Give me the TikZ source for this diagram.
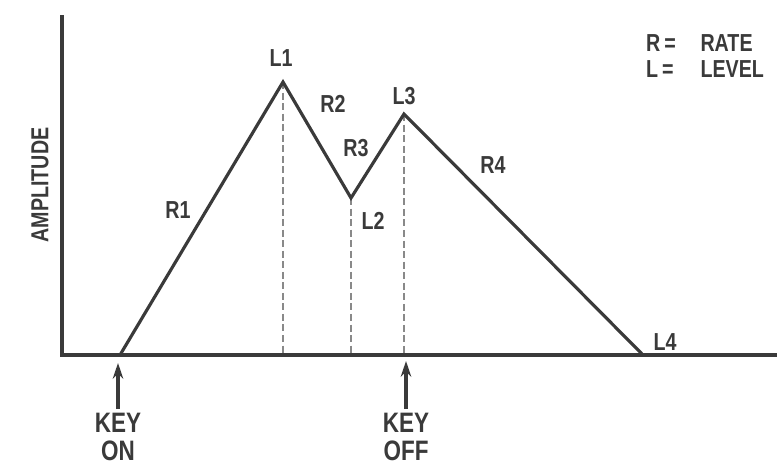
\documentclass[tikz,border=0pt]{standalone}
\usepackage{fontspec}
\setsansfont{Liberation Sans}[FakeStretch=0.8]
\usetikzlibrary{arrows.meta}
\definecolor{ink}{HTML}{3A3A3A}
\tikzset{
  lbl/.style={font=\sffamily\bfseries\fontsize{14}{16}\selectfont, text=ink, inner sep=1pt},
  keylbl/.style={font=\sffamily\bfseries\fontsize{16}{16}\selectfont, text=ink, align=center, inner sep=1pt},
  guide/.style={ink!60, dashed, line width=0.9pt, dash pattern=on 4pt off 2pt}
}
\begin{document}
\begin{tikzpicture}[x=0.02cm, y=-0.02cm]
  \useasboundingbox (0,0) rectangle (777,467);
  % axes
  \coordinate (top) at (62,15);
  \coordinate (orig) at (62,355);
  \coordinate (right) at (777,355);
  \draw[ink, line width=2.2pt] (top) -- (orig) -- (right);
  \node[lbl, rotate=90] (amp) at (40,185) {AMPLITUDE};

  % envelope points
  \coordinate (on) at (120,355);
  \coordinate (l1) at (283,82);
  \coordinate (l2) at (351,198);
  \coordinate (l3) at (404,114);
  \coordinate (l4) at (643,355);

  % level guides
  \foreach \p in {l1, l2, l3}
    \draw[guide] (\p) -- (\p |- orig);

  % envelope
  \draw[ink, line width=1.8pt, line join=miter] (on) -- (l1) -- (l2) -- (l3) -- (l4);

  % labels
  \node[lbl] (L1) at (281,58) {L1};
  \node[lbl] (L2) at (373,221) {L2};
  \node[lbl] (L3) at (404,96) {L3};
  \node[lbl] (L4) at (665,342) {L4};
  \node[lbl] (R1) at (178,210) {R1};
  \node[lbl] (R2) at (333,104) {R2};
  \node[lbl] (R3) at (356,148) {R3};
  \node[lbl] (R4) at (493,165) {R4};

  % legend
  \node[lbl, anchor=west] (legend) at (644,59)
    {\begin{tabular}{@{}l@{\hspace{14pt}}l@{}}R\,= & RATE\\[-1pt] L\,= & LEVEL\end{tabular}};

  % key events
  \node[keylbl] (keyon) at (118,437) {KEY\\ON};
  \node[keylbl] (keyoff) at (406,437) {KEY\\OFF};
  \coordinate (onhit) at (118,363);
  \coordinate (offhit) at (406,361);
  \draw[ink, line width=1.8pt, -{Stealth[length=9pt, width=6pt]}] (keyon.north) ++(0,-2) -- (onhit);
  \draw[ink, line width=1.8pt, -{Stealth[length=9pt, width=6pt]}] (keyoff.north) ++(0,-2) -- (offhit);
\end{tikzpicture}
\end{document}
